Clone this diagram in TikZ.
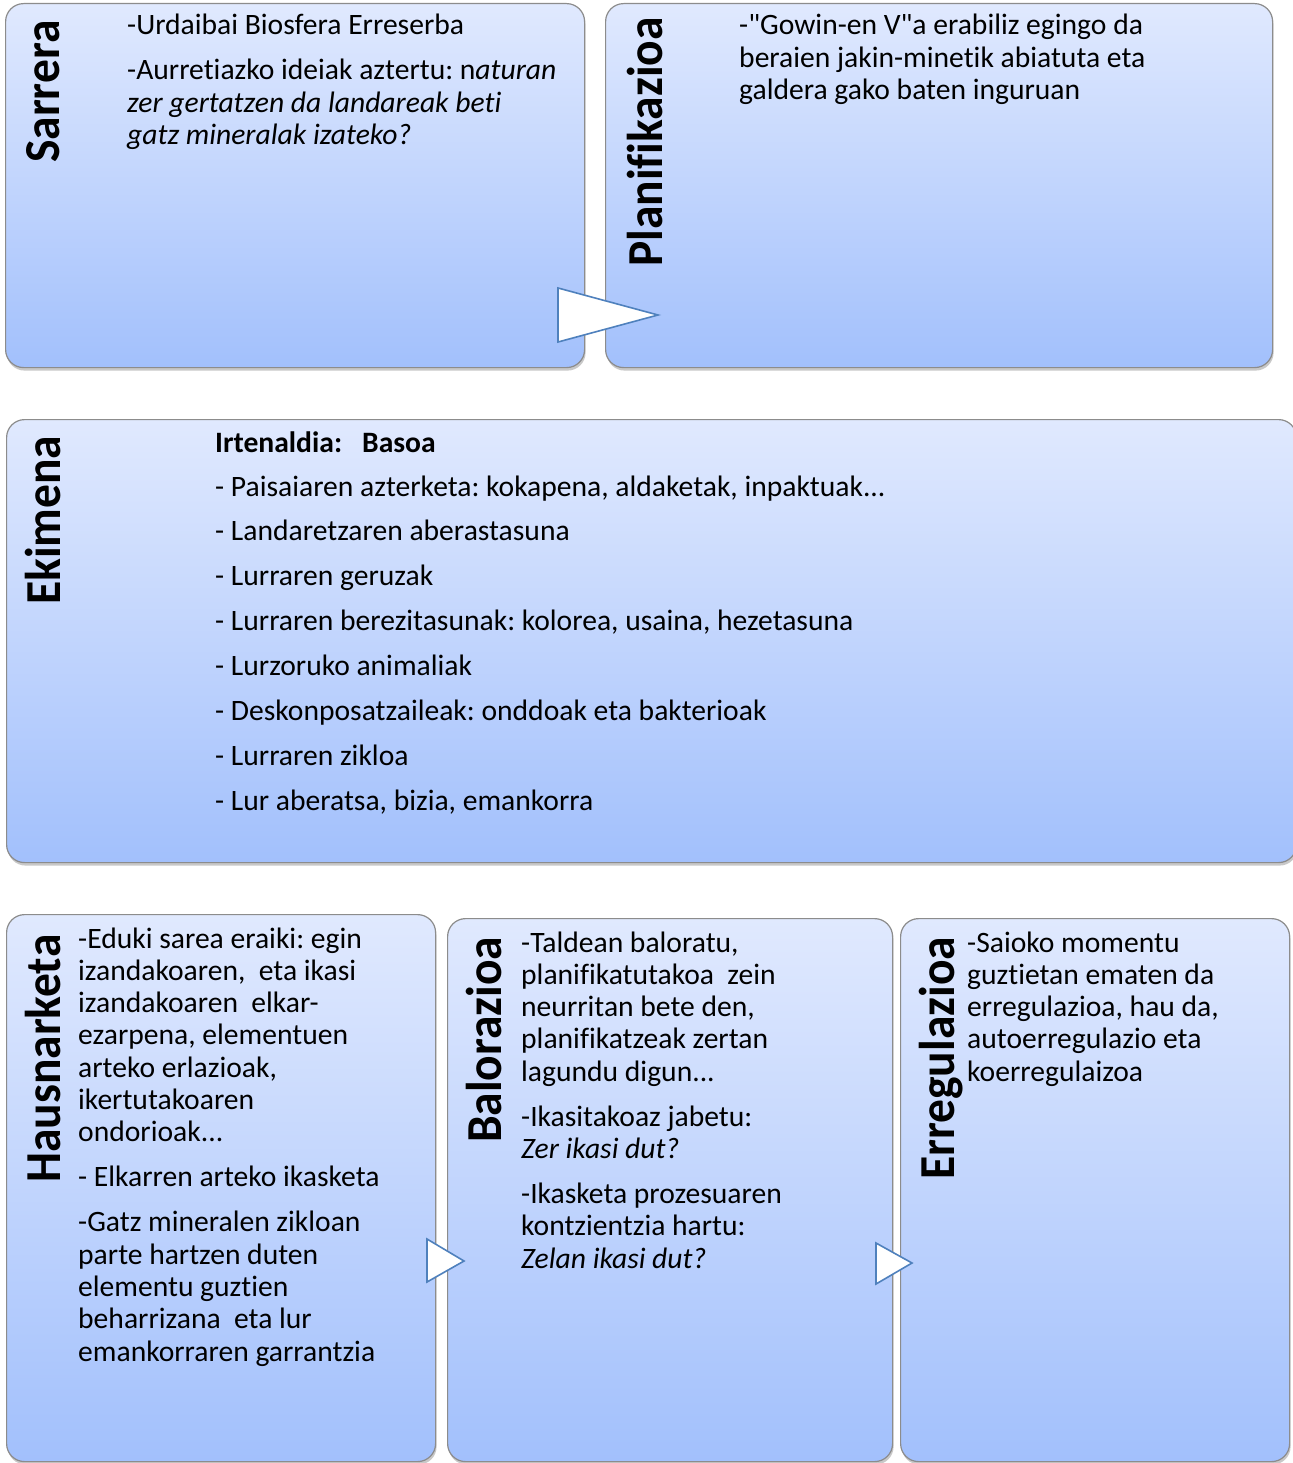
\documentclass[tikz,border=0pt]{standalone}
\usepackage{fontspec}
\setmainfont[Ligatures={NoCommon,TeXOff}]{Carlito}
\frenchspacing
\usetikzlibrary{shadows}
\definecolor{boxtop}{RGB}{224,233,254}
\definecolor{boxbot}{RGB}{162,192,252}
\definecolor{boxline}{RGB}{140,140,140}
\definecolor{arrline}{RGB}{79,129,189}
\newcommand{\tallttl}[1]{\scalebox{1}[1.06]{#1}}
\tikzset{
  panel/.style={rectangle, rounded corners=18pt, draw=boxline, line width=1.2pt,
    top color=boxtop, bottom color=boxbot, anchor=north west, inner sep=0pt,
    drop shadow={opacity=0.3, shadow xshift=1pt, shadow yshift=-3pt, fill=black!70}},
  tri/.style={draw=arrline, fill=white, line width=1.6pt, line join=miter},
  body/.style={font=\fontsize{29.6}{32.3}\selectfont\frenchspacing, inner sep=0pt, align=left, anchor=base west},
  listtxt/.style={font=\fontsize{29.6}{44.9}\selectfont\frenchspacing, inner sep=0pt, align=left, anchor=base west},
  title/.style={font=\fontsize{47.5}{52}\selectfont\bfseries, rotate=90, inner sep=0pt, anchor=base west}
}
\begin{document}
\begin{tikzpicture}[x=1pt,y=-1pt]
\useasboundingbox (0,0) rectangle (1292,1463);
\fill[white] (0,0) rectangle (1292,1463);
% panels
\node[panel, minimum width=579, minimum height=364] (sarrera) at (5,3) {};
\node[panel, minimum width=667, minimum height=364] (planif) at (605,3) {};
\node[panel, minimum width=1290, minimum height=443] (ekimena) at (6,419) {};
\node[panel, minimum width=429, minimum height=547] (haus) at (6,914) {};
\node[panel, minimum width=445, minimum height=543] (balo) at (447,918) {};
\node[panel, minimum width=389, minimum height=543] (erreg) at (900,918) {};
% arrows
\draw[tri] (558,288) -- (558,342) -- (658,315) -- cycle;
\draw[tri] (427,1239) -- (427,1282) -- (464,1261) -- cycle;
\draw[tri] (876,1243) -- (876,1284) -- (912,1263) -- cycle;
% titles
\node[title] (tSarrera) at (59,163) {\tallttl{Sarrera}};
\node[title] (tPlanif) at (662,267) {\tallttl{Planifikazioa}};
\node[title] (tEkimena) at (60,605) {\tallttl{Ekimena}};
\node[title] (tHaus) at (60,1183) {\tallttl{Hausnarketa}};
\node[title] (tBalo) at (501,1143) {\tallttl{Balorazioa}};
\node[title] (tErreg) at (954,1180) {\tallttl{Erregulazioa}};
% texts (anchored at the baseline of their last line)
\node[body] (xSarrera) at (127,144.6) {-Urdaibai Biosfera Erreserba\\[12.7pt]
-Aurretiazko ideiak aztertu: n\textit{aturan}\\
\textit{zer gertatzen da landareak beti}\\
\textit{gatz mineralak izateko?}};
\node[body] (xPlanif) at (739,99.6) {-"Gowin-en V"a erabiliz egingo da\\
beraien jakin-minetik abiatuta eta\\
galdera gako baten inguruan};
\node[body] (xEkiHead) at (215,452) {\textbf{Irtenaldia:\hspace{20pt}Basoa}};
\node[listtxt] (xEkimena) at (215,810.3) {- Paisaiaren azterketa: kokapena, aldaketak, inpaktuak...\\
- Landaretzaren aberastasuna\\
- Lurraren geruzak\\
- Lurraren berezitasunak: kolorea, usaina, hezetasuna\\
- Lurzoruko animaliak\\
- Deskonposatzaileak: onddoak eta bakterioak\\
- Lurraren zikloa\\
- Lur aberatsa, bizia, emankorra};
\node[body] (xHaus) at (78,1361) {-Eduki sarea eraiki: egin\\
izandakoaren,\ \ eta ikasi\\
izandakoaren\ \ elkar-\\
ezarpena, elementuen\\
arteko erlazioak,\\
ikertutakoaren\\
ondorioak...\\[12.7pt]
- Elkarren arteko ikasketa\\[12.7pt]
-Gatz mineralen zikloan\\
parte hartzen duten\\
elementu guztien\\
beharrizana\ \ eta lur\\
emankorraren garrantzia};
\node[body] (xBalo) at (521,1268.1) {-Taldean baloratu,\\
planifikatutakoa\ \ zein\\
neurritan bete den,\\
planifikatzeak zertan\\
lagundu digun...\\[12.7pt]
-Ikasitakoaz jabetu:\\
\textit{Zer ikasi dut?}\\[12.7pt]
-Ikasketa prozesuaren\\
kontzientzia hartu:\\
\textit{Zelan ikasi dut?}};
\node[body] (xErreg) at (967,1081.2) {-Saioko momentu\\
guztietan ematen da\\
erregulazioa, hau da,\\
autoerregulazio eta\\
koerregulaizoa};
\end{tikzpicture}
\end{document}
